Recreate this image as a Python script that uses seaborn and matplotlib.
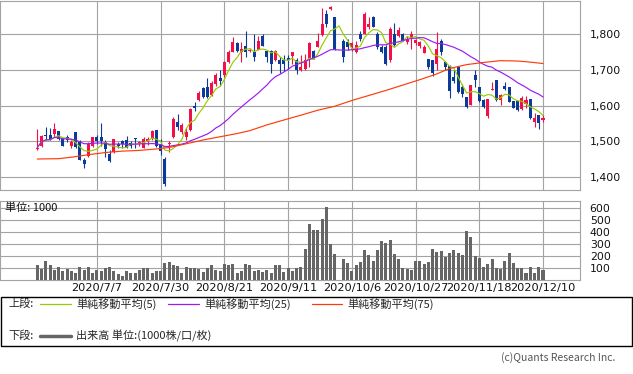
import numpy as np
import pandas as pd
import matplotlib
matplotlib.use("Agg")
import matplotlib.pyplot as plt
from matplotlib.patches import Rectangle
from matplotlib.lines import Line2D
import seaborn as sns

# ---------------- data ----------------
opens = [1479, 1488, 1517, 1517, 1522, 1529, 1508, 1511, 1488, 1525,
         1499, 1448, 1460, 1488, 1513, 1513, 1499, 1464, 1471, 1494,
         1502, 1504, 1496, 1510, 1493, 1483, 1499, 1506, 1531, 1493,
         1452, 1494, 1511, 1553, 1527, 1512, 1531, 1600, 1615, 1649,
         1652, 1629, 1661, 1678, 1684, 1721, 1749, 1774, 1750, 1765,
         1752, 1749, 1756, 1793, 1751, 1751, 1728, 1726, 1728, 1732,
         1737, 1728, 1698, 1703, 1731, 1751, 1763, 1797, 1856, 1869,
         1846, np.nan, 1779, 1777, 1763, 1749, 1800, 1800, 1820, 1848,
         1800, 1763, 1763, 1726, 1800, 1795, 1800, 1777, 1786, 1774,
         1765, 1747, 1731, 1728, 1717, 1780, 1721, 1710, 1680, 1707,
         1652, 1624, 1601, 1684, 1652, 1615, 1572, 1643, 1672, 1615,
         1654, 1652, 1612, 1612, 1590, 1603, 1619, 1555, 1573, 1559]
highs = [1536, 1518, 1540, 1538, 1552, 1530, 1510, 1517, 1504, 1527,
         1504, 1453, 1499, 1513, 1517, 1551, 1504, 1476, 1506, 1499,
         1504, 1516, 1502, 1510, 1502, 1511, 1511, 1531, 1531, 1506,
         1457, 1500, 1567, 1576, 1552, 1537, 1593, 1610, 1640, 1651,
         1676, 1668, 1690, 1698, 1725, 1755, 1790, 1776, 1777, 1807,
         1760, 1800, 1795, 1800, 1756, 1754, 1756, 1735, 1740, 1740,
         1749, 1732, 1740, 1744, 1777, 1754, 1802, 1872, 1867, 1877,
         1848, np.nan, 1786, 1786, 1778, 1781, 1809, 1861, 1846, 1850,
         1805, 1768, 1768, 1818, 1830, 1820, 1802, 1795, 1809, 1786,
         1780, 1768, 1731, 1728, 1805, 1786, 1725, 1712, 1698, 1707,
         1661, 1624, 1656, 1698, 1652, 1619, 1619, 1666, 1672, 1633,
         1666, 1652, 1612, 1612, 1626, 1626, 1619, 1578, 1573, 1573]
lows = [1477, 1485, 1504, 1504, 1513, 1504, 1486, 1499, 1481, 1483,
        1448, 1427, 1457, 1485, 1494, 1488, 1457, 1443, 1467, 1481,
        1481, 1481, 1481, 1481, 1488, 1481, 1490, 1504, 1485, 1462,
        1377, 1470, 1509, 1531, 1520, 1505, 1530, 1585, 1613, 1622,
        1622, 1626, 1655, 1655, 1680, 1718, 1748, 1750, 1721, 1735,
        1748, 1723, 1754, 1765, 1721, 1691, 1724, 1691, 1696, 1703,
        1717, 1689, 1696, 1698, 1707, 1729, 1762, 1795, 1819, 1865,
        1756, np.nan, 1721, 1756, 1752, 1745, 1780, 1798, 1814, 1818,
        1758, 1745, 1714, 1722, 1766, 1792, 1779, 1772, 1758, 1770,
        1760, 1745, 1703, 1681, 1700, 1740, 1700, 1620, 1663, 1635,
        1624, 1592, 1601, 1652, 1610, 1594, 1564, 1642, 1612, 1601,
        1644, 1610, 1592, 1585, 1587, 1592, 1562, 1541, 1536, 1555]
closes = [1483, 1515, 1515, 1506, 1536, 1508, 1488, 1504, 1499, 1485,
          1448, 1437, 1492, 1513, 1502, 1502, 1479, 1445, 1506, 1488,
          1493, 1485, 1488, 1506, 1499, 1506, 1508, 1529, 1488, 1474,
          1381, 1497, 1562, 1541, 1547, 1525, 1590, 1592, 1636, 1624,
          1624, 1664, 1684, 1668, 1721, 1750, 1777, 1752, 1757, 1749,
          1756, 1735, 1781, 1766, 1735, 1717, 1751, 1715, 1717, 1728,
          1749, 1700, 1707, 1728, 1775, 1732, 1779, 1828, 1828, 1874,
          1758, np.nan, 1735, 1763, 1774, 1768, 1786, 1856, 1828, 1820,
          1763, 1749, 1715, 1814, 1768, 1811, 1781, 1786, 1800, 1783,
          1777, 1763, 1706, 1691, 1758, 1749, 1707, 1640, 1668, 1638,
          1633, 1596, 1656, 1670, 1612, 1596, 1619, 1647, 1615, 1629,
          1647, 1610, 1594, 1587, 1621, 1615, 1564, 1566, 1550, 1566]
volumes = [125, 95, 160, 125, 85, 115, 80, 95, 75, 60,
           110, 85, 115, 65, 90, 75, 100, 110, 75, 55,
           35, 80, 60, 60, 85, 105, 100, 65, 75, 80,
           145, 150, 125, 120, 65, 115, 105, 100, 95, 70,
           105, 130, 85, 75, 140, 125, 140, 65, 80, 140,
           130, 80, 90, 70, 90, 65, 125, 125, 70, 105,
           80, 100, 115, 265, 470, 420, 420, 510, 610, 300,
           220, 0, 175, 145, 75, 125, 155, 250, 210, 160,
           250, 325, 310, 340, 220, 180, 105, 95, 85, 160,
           160, 140, 155, 260, 235, 245, 195, 225, 250, 225,
           210, 410, 360, 200, 185, 115, 140, 175, 100, 95,
           160, 225, 145, 105, 100, 60, 115, 65, 115, 90]
# 75-day average (depends on data before the window)
ma75_idx = [0, 5, 8, 12, 16, 20, 24, 28, 31, 36, 39, 43, 47, 50, 54, 59,
            62, 66, 70, 74, 78, 82, 86, 90, 94, 97, 101, 105, 109, 113, 116, 119]
ma75_vals = [1451, 1452, 1456, 1463, 1469, 1473, 1475, 1479, 1483, 1496, 1504,
             1513, 1522, 1530, 1546, 1563, 1573, 1587, 1598, 1614, 1628, 1642,
             1657, 1672, 1688, 1703, 1714, 1720, 1725, 1724, 1721, 1717]
date_ticks = [14, 29, 44, 59, 74, 89, 104, 119]
date_labels = ['2020/7/7', '2020/7/30', '2020/8/21', '2020/9/11',
               '2020/10/6', '2020/10/27', '2020/11/18', '2020/12/10']
price_ticks = [1400, 1500, 1600, 1700, 1800]
volume_ticks = [100, 200, 300, 400, 500, 600]
ma_windows = [5, 25]

# ---------------- style ----------------
sns.set_style("white")
plt.rcParams['font.family'] = ['Noto Sans CJK JP', 'DejaVu Sans']

UP = '#f3104a'
DOWN = '#0b3a98'
MA_COLORS = ['#99cc00', '#9a1cf2', '#ff3b0a']
GRID = '#a3a3a3'
VOL = '#666666'
LATIN = ['DejaVu Sans']

W, H = 633, 374
fig = plt.figure(figsize=(W / 100, H / 100), dpi=100)
fig.patch.set_facecolor('white')

def px_axes(left, top, right, bottom):
    return fig.add_axes([left / W, 1 - bottom / H, (right - left) / W, (bottom - top) / H])

ax = px_axes(0, 0.5, 580, 190)
axv = px_axes(0, 201, 580, 280.3)

df = pd.DataFrame({'open': opens, 'high': highs, 'low': lows,
                   'close': closes, 'volume': volumes})
df['idx'] = np.arange(len(df))
xlim = (-8.78, 127.7)

# grids
for a in (ax, axv):
    a.set_xlim(*xlim)
    a.set_xticks(date_ticks)
    a.set_axisbelow(True)
    a.grid(True, color=GRID, linewidth=0.8)
    for s in a.spines.values():
        s.set_color(GRID)
        s.set_linewidth(0.8)
    a.yaxis.tick_right()
    a.tick_params(axis='both', length=0, colors='#111111')
    a.tick_params(axis='y', pad=7, labelsize=7.8)

# candles
valid = df.dropna(subset=['open'])
up = valid['close'] >= valid['open']
for mask, col in ((up, UP), (~up, DOWN)):
    sub = valid[mask]
    ax.vlines(sub['idx'], sub['low'], sub['high'], color=col, linewidth=0.8, zorder=3)
    body = (sub['close'] - sub['open']).abs().clip(lower=2.5)
    ax.bar(sub['idx'], body, bottom=np.minimum(sub['open'], sub['close']),
           width=0.72, color=col, linewidth=0, zorder=4)

# moving averages
for w, col in zip(ma_windows, MA_COLORS):
    ma = df['close'].rolling(w, min_periods=1).mean()
    sns.lineplot(x=df['idx'], y=ma, ax=ax, color=col, linewidth=0.85, zorder=5)
sns.lineplot(x=ma75_idx, y=ma75_vals, ax=ax, color=MA_COLORS[2], linewidth=0.85, zorder=5)

ax.set_ylim(1364.7, 1892.6)
ax.set_yticks(price_ticks)
ax.set_yticklabels([f'{v:,}' for v in price_ticks], fontfamily=LATIN)
ax.tick_params(axis='x', labelbottom=False)
ax.set_xlabel('')
ax.set_ylabel('')

# volume
axv.bar(df['idx'], df['volume'], width=0.72, color=VOL, linewidth=0, zorder=3)
axv.set_ylim(0, 661)
axv.set_yticks(volume_ticks)
axv.set_yticklabels([str(v) for v in volume_ticks], fontfamily=LATIN)
axv.set_xticklabels(date_labels, fontfamily=LATIN, fontsize=8.2)
axv.tick_params(axis='x', pad=2)
axv.text(5 / 580, 0.91, '単位: 1000', transform=axv.transAxes, fontsize=8,
         ha='left', va='center', color='#111111')

# legend box
def fx(x):
    return x / W

def fy(y):
    return 1 - y / H

fig.add_artist(Rectangle((fx(0.5), fy(346)), fx(631.5), 49 / H, transform=fig.transFigure,
                         fill=False, edgecolor='black', linewidth=1.0))
fs = 8
fig.text(fx(8), fy(304), '上段:', fontsize=fs, va='center', ha='left')
fig.text(fx(8), fy(336), '下段:', fontsize=fs, va='center', ha='left')
segments = [(40, 71, 76, '単純移動平均(5)'), (168, 199, 204, '単純移動平均(25)'),
            (312, 342, 347, '単純移動平均(75)')]
for (x0, x1, tx, lab), col in zip(segments, MA_COLORS):
    fig.add_artist(Line2D([fx(x0), fx(x1)], [fy(304), fy(304)], color=col,
                          linewidth=0.9, transform=fig.transFigure))
    fig.text(fx(tx), fy(304), lab, fontsize=fs, va='center', ha='left')
fig.add_artist(Line2D([fx(40), fx(71)], [fy(336), fy(336)], color=VOL,
                      linewidth=2.5, transform=fig.transFigure))
fig.text(fx(76), fy(336), '出来高 単位:(1000株/口/枚)', fontsize=fs, va='center', ha='left')

fig.text(fx(615), fy(358), '(c)Quants Research Inc.', fontsize=7.5, va='center',
         ha='right', color='#555555')

fig.savefig('out.png', dpi=100, facecolor='white')
